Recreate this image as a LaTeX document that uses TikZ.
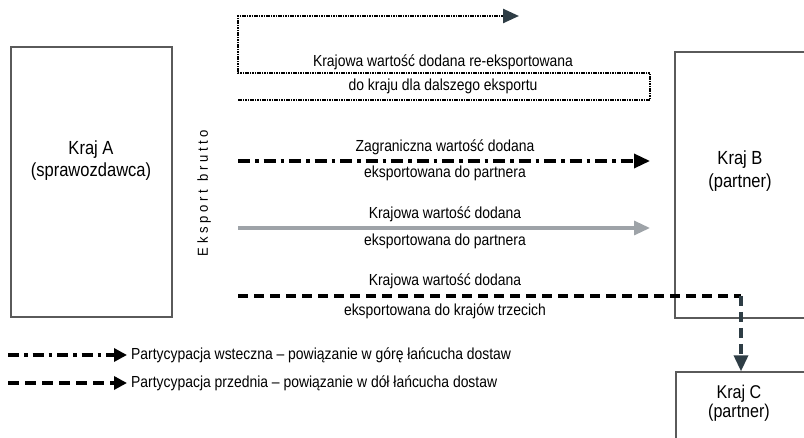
\documentclass[tikz,border=0pt]{standalone}
\usepackage{fontspec}
\setmainfont[FakeStretch=0.87]{Liberation Sans}
\newfontfamily\spacedfont[LetterSpace=26,FakeStretch=0.9]{Liberation Sans}
\usetikzlibrary{arrows.meta}
\definecolor{slate}{HTML}{2E3D45}
\definecolor{boxgray}{HTML}{5A5A5A}
\definecolor{paleline}{HTML}{9EA3A8}
\begin{document}
\begin{tikzpicture}[x=1pt,y=-1pt,
  box/.style={draw=boxgray,line width=1.3pt,inner sep=0pt},
  boxtext/.style={align=center,font=\fontsize{19}{22}\selectfont},
  flowtext/.style={font=\fontsize{16}{18}\selectfont,inner sep=0pt},
  bigtip/.style={-{Triangle[length=16pt,width=14pt,color=#1]}},
  reexp/.style={line width=2.5pt,dash pattern=on 1.6pt off 0.8pt,bigtip=slate},
  backw/.style={line width=3.4pt,dash pattern=on 12pt off 5pt on 3.5pt off 5pt,bigtip=black},
  domest/.style={line width=3.2pt,draw=paleline,bigtip=paleline},
  forw/.style={line width=3.4pt,dash pattern=on 10pt off 6pt},
  legtip/.style={-{Triangle[length=13pt,width=13pt]},shorten >=4pt}]
  \useasboundingbox (0,0) rectangle (804,438);
  \clip (0,0) rectangle (804,438);
  % countries
  \node[box,minimum width=161pt,minimum height=270pt] (A) at (91.5,182) {};
  \node[box,minimum width=131pt,minimum height=266pt] (B) at (740.5,185) {};
  \node[box,minimum width=130pt,minimum height=73pt] (C) at (741,408.5) {};
  \node[boxtext] (Alab) at (91,161) {Kraj A\\(sprawozdawca)};
  \node[boxtext,font=\fontsize{19}{23}\selectfont] (Blab) at (740,171.5) {Kraj B\\(partner)};
  \node[boxtext,font=\fontsize{18.5}{19}\selectfont] (Clab) at (739,403.5) {Kraj C\\(partner)};
  \node[rotate=90,font=\spacedfont\fontsize{14.5}{16}\selectfont] (gross) at (204,193) {Eksport brutto};
  % flows
  \coordinate (re0) at (238,100);
  \coordinate (re1) at (519,16);
  \draw[reexp] (re0) -- ++(412,0) -- ++(0,-27) -- ++(-412,0) |- (re1);
  \node[flowtext] (re-a) at (443,62) {Krajowa wartość dodana re-eksportowana};
  \node[flowtext] (re-b) at (443,86) {do kraju dla dalszego eksportu};
  \coordinate (fo0) at (238,161);
  \coordinate (fo1) at (650,161);
  \draw[backw] (fo0) -- (fo1);
  \node[flowtext] (fo-a) at (445,147) {Zagraniczna wartość dodana};
  \node[flowtext] (fo-b) at (445,173) {eksportowana do partnera};
  \coordinate (do0) at (238,228);
  \coordinate (do1) at (650,228);
  \draw[domest] (do0) -- (do1);
  \node[flowtext] (do-a) at (445,214) {Krajowa wartość dodana};
  \node[flowtext] (do-b) at (445,241) {eksportowana do partnera};
  \coordinate (th0) at (238,296);
  \coordinate (thc) at (741,296);
  \draw[forw] (th0) -- (thc);
  \draw[forw,draw=slate,bigtip=slate] (thc) -- (C.north);
  \node[flowtext] (th-a) at (445,281) {Krajowa wartość dodana};
  \node[flowtext] (th-b) at (445,311) {eksportowana do krajów trzecich};
  % legend
  \coordinate (lg1) at (8,355);
  \coordinate (lg2) at (8,383);
  \node[flowtext,anchor=west] (lgt1) at (131,355) {Partycypacja wsteczna – powiązanie w górę łańcucha dostaw};
  \node[flowtext,anchor=west] (lgt2) at (131,383) {Partycypacja przednia – powiązanie w dół łańcucha dostaw};
  \draw[line width=3.2pt,dash pattern=on 11pt off 5pt on 3.5pt off 5pt,legtip] (lg1) -- (lgt1.west);
  \draw[line width=3.4pt,dash pattern=on 11pt off 6pt,legtip] (lg2) -- (lgt2.west);
\end{tikzpicture}
\end{document}
